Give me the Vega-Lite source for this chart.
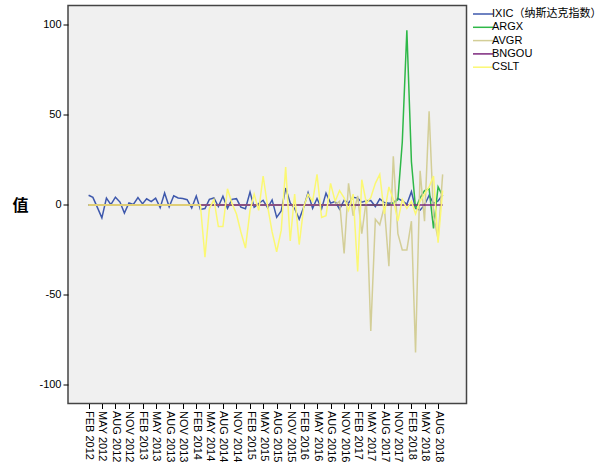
{
  "$schema": "https://vega.github.io/schema/vega-lite/v6.json",
  "width": 398.5,
  "height": 398,
  "autosize": {"type": "none"},
  "padding": {"left": 68, "top": 5.5, "right": 142.5, "bottom": 62.5},
  "background": "white",
  "config": {
    "view": {"fill": "#F0F0F0", "stroke": "#444444", "strokeWidth": 1.5},
    "font": "Liberation Sans",
    "axis": {"grid": false, "domain": false, "tickColor": "#000000", "tickSize": 5, "labelColor": "#000000", "labelFontSize": 11, "labelFont": "Liberation Sans"}
  },
  "data": {"values": [
    {"month": "2012-02-01", "IXIC（纳斯达克指数）": 5.4, "ARGX": 0, "AVGR": 0, "BNGOU": 0, "CSLT": 0},
    {"month": "2012-03-01", "IXIC（纳斯达克指数）": 4.2, "ARGX": 0, "AVGR": 0, "BNGOU": 0, "CSLT": 0},
    {"month": "2012-04-01", "IXIC（纳斯达克指数）": -1.5, "ARGX": 0, "AVGR": 0, "BNGOU": 0, "CSLT": 0},
    {"month": "2012-05-01", "IXIC（纳斯达克指数）": -7.2, "ARGX": 0, "AVGR": 0, "BNGOU": 0, "CSLT": 0},
    {"month": "2012-06-01", "IXIC（纳斯达克指数）": 3.8, "ARGX": 0, "AVGR": 0, "BNGOU": 0, "CSLT": 0},
    {"month": "2012-07-01", "IXIC（纳斯达克指数）": 0.2, "ARGX": 0, "AVGR": 0, "BNGOU": 0, "CSLT": 0},
    {"month": "2012-08-01", "IXIC（纳斯达克指数）": 4.3, "ARGX": 0, "AVGR": 0, "BNGOU": 0, "CSLT": 0},
    {"month": "2012-09-01", "IXIC（纳斯达克指数）": 1.6, "ARGX": 0, "AVGR": 0, "BNGOU": 0, "CSLT": 0},
    {"month": "2012-10-01", "IXIC（纳斯达克指数）": -4.5, "ARGX": 0, "AVGR": 0, "BNGOU": 0, "CSLT": 0},
    {"month": "2012-11-01", "IXIC（纳斯达克指数）": 1.1, "ARGX": 0, "AVGR": 0, "BNGOU": 0, "CSLT": 0},
    {"month": "2012-12-01", "IXIC（纳斯达克指数）": 0.3, "ARGX": 0, "AVGR": 0, "BNGOU": 0, "CSLT": 0},
    {"month": "2013-01-01", "IXIC（纳斯达克指数）": 4.1, "ARGX": 0, "AVGR": 0, "BNGOU": 0, "CSLT": 0},
    {"month": "2013-02-01", "IXIC（纳斯达克指数）": 0.6, "ARGX": 0, "AVGR": 0, "BNGOU": 0, "CSLT": 0},
    {"month": "2013-03-01", "IXIC（纳斯达克指数）": 3.4, "ARGX": 0, "AVGR": 0, "BNGOU": 0, "CSLT": 0},
    {"month": "2013-04-01", "IXIC（纳斯达克指数）": 1.9, "ARGX": 0, "AVGR": 0, "BNGOU": 0, "CSLT": 0},
    {"month": "2013-05-01", "IXIC（纳斯达克指数）": 3.8, "ARGX": 0, "AVGR": 0, "BNGOU": 0, "CSLT": 0},
    {"month": "2013-06-01", "IXIC（纳斯达克指数）": -1.5, "ARGX": 0, "AVGR": 0, "BNGOU": 0, "CSLT": 0},
    {"month": "2013-07-01", "IXIC（纳斯达克指数）": 6.6, "ARGX": 0, "AVGR": 0, "BNGOU": 0, "CSLT": 0},
    {"month": "2013-08-01", "IXIC（纳斯达克指数）": -1.0, "ARGX": 0, "AVGR": 0, "BNGOU": 0, "CSLT": 0},
    {"month": "2013-09-01", "IXIC（纳斯达克指数）": 5.1, "ARGX": 0, "AVGR": 0, "BNGOU": 0, "CSLT": 0},
    {"month": "2013-10-01", "IXIC（纳斯达克指数）": 3.9, "ARGX": 0, "AVGR": 0, "BNGOU": 0, "CSLT": 0},
    {"month": "2013-11-01", "IXIC（纳斯达克指数）": 3.6, "ARGX": 0, "AVGR": 0, "BNGOU": 0, "CSLT": 0},
    {"month": "2013-12-01", "IXIC（纳斯达克指数）": 2.9, "ARGX": 0, "AVGR": 0, "BNGOU": 0, "CSLT": 0},
    {"month": "2014-01-01", "IXIC（纳斯达克指数）": -1.7, "ARGX": 0, "AVGR": 0, "BNGOU": 0, "CSLT": 0},
    {"month": "2014-02-01", "IXIC（纳斯达克指数）": 5.0, "ARGX": 0, "AVGR": 0, "BNGOU": 0, "CSLT": 0},
    {"month": "2014-03-01", "IXIC（纳斯达克指数）": -2.5, "ARGX": 0, "AVGR": 0, "BNGOU": 0, "CSLT": 0},
    {"month": "2014-04-01", "IXIC（纳斯达克指数）": -2.0, "ARGX": 0, "AVGR": 0, "BNGOU": 0, "CSLT": -29},
    {"month": "2014-05-01", "IXIC（纳斯达克指数）": 3.1, "ARGX": 0, "AVGR": 0, "BNGOU": 0, "CSLT": -2},
    {"month": "2014-06-01", "IXIC（纳斯达克指数）": 3.9, "ARGX": 0, "AVGR": 0, "BNGOU": 0, "CSLT": 3},
    {"month": "2014-07-01", "IXIC（纳斯达克指数）": -0.9, "ARGX": 0, "AVGR": 0, "BNGOU": 0, "CSLT": -12},
    {"month": "2014-08-01", "IXIC（纳斯达克指数）": 4.8, "ARGX": 0, "AVGR": 0, "BNGOU": 0, "CSLT": -12},
    {"month": "2014-09-01", "IXIC（纳斯达克指数）": -1.9, "ARGX": 0, "AVGR": 0, "BNGOU": 0, "CSLT": 9},
    {"month": "2014-10-01", "IXIC（纳斯达克指数）": 3.1, "ARGX": 0, "AVGR": 0, "BNGOU": 0, "CSLT": 1},
    {"month": "2014-11-01", "IXIC（纳斯达克指数）": 3.5, "ARGX": 0, "AVGR": 0, "BNGOU": 0, "CSLT": -5},
    {"month": "2014-12-01", "IXIC（纳斯达克指数）": -1.2, "ARGX": 0, "AVGR": 0, "BNGOU": 0, "CSLT": -15},
    {"month": "2015-01-01", "IXIC（纳斯达克指数）": -2.1, "ARGX": 0, "AVGR": 0, "BNGOU": 0, "CSLT": -24},
    {"month": "2015-02-01", "IXIC（纳斯达克指数）": 7.1, "ARGX": 0, "AVGR": 0, "BNGOU": 0, "CSLT": -3},
    {"month": "2015-03-01", "IXIC（纳斯达克指数）": -1.3, "ARGX": 0, "AVGR": 0, "BNGOU": 0, "CSLT": 6},
    {"month": "2015-04-01", "IXIC（纳斯达克指数）": 0.8, "ARGX": 0, "AVGR": 0, "BNGOU": 0, "CSLT": -3},
    {"month": "2015-05-01", "IXIC（纳斯达克指数）": 2.6, "ARGX": 0, "AVGR": 0, "BNGOU": 0, "CSLT": 16},
    {"month": "2015-06-01", "IXIC（纳斯达克指数）": -1.6, "ARGX": 0, "AVGR": 0, "BNGOU": 0, "CSLT": -1},
    {"month": "2015-07-01", "IXIC（纳斯达克指数）": 2.8, "ARGX": 0, "AVGR": 0, "BNGOU": 0, "CSLT": -15},
    {"month": "2015-08-01", "IXIC（纳斯达克指数）": -6.9, "ARGX": 0, "AVGR": 0, "BNGOU": 0, "CSLT": -26},
    {"month": "2015-09-01", "IXIC（纳斯达克指数）": -3.3, "ARGX": 0, "AVGR": 0, "BNGOU": 0, "CSLT": -14},
    {"month": "2015-10-01", "IXIC（纳斯达克指数）": 9.4, "ARGX": 0, "AVGR": 0, "BNGOU": 0, "CSLT": 21},
    {"month": "2015-11-01", "IXIC（纳斯达克指数）": 1.1, "ARGX": 0, "AVGR": 0, "BNGOU": 0, "CSLT": -20},
    {"month": "2015-12-01", "IXIC（纳斯达克指数）": -2.0, "ARGX": 0, "AVGR": 0, "BNGOU": 0, "CSLT": 6},
    {"month": "2016-01-01", "IXIC（纳斯达克指数）": -7.9, "ARGX": 0, "AVGR": 0, "BNGOU": 0, "CSLT": -22},
    {"month": "2016-02-01", "IXIC（纳斯达克指数）": -1.2, "ARGX": 0, "AVGR": 0, "BNGOU": 0, "CSLT": -1},
    {"month": "2016-03-01", "IXIC（纳斯达克指数）": 6.8, "ARGX": 0, "AVGR": 0, "BNGOU": 0, "CSLT": 6},
    {"month": "2016-04-01", "IXIC（纳斯达克指数）": -1.9, "ARGX": 0, "AVGR": 0, "BNGOU": 0, "CSLT": 2},
    {"month": "2016-05-01", "IXIC（纳斯达克指数）": 3.6, "ARGX": 0, "AVGR": 0, "BNGOU": 0, "CSLT": 17},
    {"month": "2016-06-01", "IXIC（纳斯达克指数）": -2.1, "ARGX": 0, "AVGR": 0, "BNGOU": 0, "CSLT": -7},
    {"month": "2016-07-01", "IXIC（纳斯达克指数）": 6.6, "ARGX": 0, "AVGR": 0, "BNGOU": 0, "CSLT": -6},
    {"month": "2016-08-01", "IXIC（纳斯达克指数）": 1.0, "ARGX": 0, "AVGR": 0, "BNGOU": 0, "CSLT": 12},
    {"month": "2016-09-01", "IXIC（纳斯达克指数）": 1.9, "ARGX": 0, "AVGR": 0, "BNGOU": 0, "CSLT": 2},
    {"month": "2016-10-01", "IXIC（纳斯达克指数）": -2.3, "ARGX": 0, "AVGR": 2, "BNGOU": 0, "CSLT": 8},
    {"month": "2016-11-01", "IXIC（纳斯达克指数）": 2.6, "ARGX": 0, "AVGR": -27, "BNGOU": 0, "CSLT": 4},
    {"month": "2016-12-01", "IXIC（纳斯达克指数）": 1.1, "ARGX": 0, "AVGR": 12, "BNGOU": 0, "CSLT": -3},
    {"month": "2017-01-01", "IXIC（纳斯达克指数）": 4.3, "ARGX": 0, "AVGR": -6, "BNGOU": 0, "CSLT": 6},
    {"month": "2017-02-01", "IXIC（纳斯达克指数）": 3.8, "ARGX": 0, "AVGR": 5, "BNGOU": 0, "CSLT": -37},
    {"month": "2017-03-01", "IXIC（纳斯达克指数）": 1.5, "ARGX": 0, "AVGR": -16, "BNGOU": 0, "CSLT": 14},
    {"month": "2017-04-01", "IXIC（纳斯达克指数）": 2.3, "ARGX": 0, "AVGR": 3, "BNGOU": 0, "CSLT": 1},
    {"month": "2017-05-01", "IXIC（纳斯达克指数）": 2.5, "ARGX": 0, "AVGR": -70, "BNGOU": 0, "CSLT": 4},
    {"month": "2017-06-01", "IXIC（纳斯达克指数）": -0.9, "ARGX": 0, "AVGR": -8, "BNGOU": 0, "CSLT": 12},
    {"month": "2017-07-01", "IXIC（纳斯达克指数）": 3.4, "ARGX": 0, "AVGR": -11, "BNGOU": 0, "CSLT": 17},
    {"month": "2017-08-01", "IXIC（纳斯达克指数）": 1.3, "ARGX": 0, "AVGR": -1, "BNGOU": 0, "CSLT": -5},
    {"month": "2017-09-01", "IXIC（纳斯达克指数）": 1.0, "ARGX": 0, "AVGR": -34, "BNGOU": 0, "CSLT": 10},
    {"month": "2017-10-01", "IXIC（纳斯达克指数）": 1.2, "ARGX": 1, "AVGR": 27, "BNGOU": 0, "CSLT": 3},
    {"month": "2017-11-01", "IXIC（纳斯达克指数）": 3.6, "ARGX": 3, "AVGR": -16, "BNGOU": 0, "CSLT": -9},
    {"month": "2017-12-01", "IXIC（纳斯达克指数）": 2.2, "ARGX": 35, "AVGR": -25, "BNGOU": 0, "CSLT": 3},
    {"month": "2018-01-01", "IXIC（纳斯达克指数）": 0.4, "ARGX": 97, "AVGR": -25, "BNGOU": 0, "CSLT": -2},
    {"month": "2018-02-01", "IXIC（纳斯达克指数）": 7.4, "ARGX": 24, "AVGR": -9, "BNGOU": 0, "CSLT": 2},
    {"month": "2018-03-01", "IXIC（纳斯达克指数）": -1.9, "ARGX": -2, "AVGR": -82, "BNGOU": 0, "CSLT": -5},
    {"month": "2018-04-01", "IXIC（纳斯达克指数）": -2.9, "ARGX": 4, "AVGR": 19, "BNGOU": 0, "CSLT": 2},
    {"month": "2018-05-01", "IXIC（纳斯达克指数）": 0.0, "ARGX": 8, "AVGR": -9, "BNGOU": 0, "CSLT": 6},
    {"month": "2018-06-01", "IXIC（纳斯达克指数）": 5.3, "ARGX": 9, "AVGR": 52, "BNGOU": 0, "CSLT": 10},
    {"month": "2018-07-01", "IXIC（纳斯达克指数）": 0.9, "ARGX": -13, "AVGR": -6, "BNGOU": 0, "CSLT": 16},
    {"month": "2018-08-01", "IXIC（纳斯达克指数）": 2.2, "ARGX": 10, "AVGR": -19, "BNGOU": 0, "CSLT": -21},
    {"month": "2018-09-01", "IXIC（纳斯达克指数）": 5.7, "ARGX": 5, "AVGR": 17, "BNGOU": 0, "CSLT": 8}
  ]},
  "transform": [
    {"fold": ["IXIC（纳斯达克指数）", "ARGX", "AVGR", "BNGOU", "CSLT"], "as": ["series", "value"]}
  ],
  "mark": {"type": "line", "strokeWidth": 1.5, "interpolate": "linear"},
  "encoding": {
    "x": {
      "field": "month", "type": "temporal",
      "scale": {"type": "utc", "domain": [{"year": 2011, "month": 9, "date": 14, "utc": true}, {"year": 2019, "month": 2, "date": 10, "utc": true}]},
      "axis": {
        "title": null,
        "values": [
          {"year": 2012, "month": 2, "date": 1, "utc": true}, {"year": 2012, "month": 5, "date": 1, "utc": true}, {"year": 2012, "month": 8, "date": 1, "utc": true}, {"year": 2012, "month": 11, "date": 1, "utc": true},
          {"year": 2013, "month": 2, "date": 1, "utc": true}, {"year": 2013, "month": 5, "date": 1, "utc": true}, {"year": 2013, "month": 8, "date": 1, "utc": true}, {"year": 2013, "month": 11, "date": 1, "utc": true},
          {"year": 2014, "month": 2, "date": 1, "utc": true}, {"year": 2014, "month": 5, "date": 1, "utc": true}, {"year": 2014, "month": 8, "date": 1, "utc": true}, {"year": 2014, "month": 11, "date": 1, "utc": true},
          {"year": 2015, "month": 2, "date": 1, "utc": true}, {"year": 2015, "month": 5, "date": 1, "utc": true}, {"year": 2015, "month": 8, "date": 1, "utc": true}, {"year": 2015, "month": 11, "date": 1, "utc": true},
          {"year": 2016, "month": 2, "date": 1, "utc": true}, {"year": 2016, "month": 5, "date": 1, "utc": true}, {"year": 2016, "month": 8, "date": 1, "utc": true}, {"year": 2016, "month": 11, "date": 1, "utc": true},
          {"year": 2017, "month": 2, "date": 1, "utc": true}, {"year": 2017, "month": 5, "date": 1, "utc": true}, {"year": 2017, "month": 8, "date": 1, "utc": true}, {"year": 2017, "month": 11, "date": 1, "utc": true},
          {"year": 2018, "month": 2, "date": 1, "utc": true}, {"year": 2018, "month": 5, "date": 1, "utc": true}, {"year": 2018, "month": 8, "date": 1, "utc": true}
        ],
        "labelExpr": "upper(utcFormat(datum.value, '%b %Y'))",
        "labelAngle": 90, "labelAlign": "left", "labelBaseline": "middle",
        "labelPadding": 2, "labelOverlap": false, "labelBound": false, "labelFlush": false
      }
    },
    "y": {
      "field": "value", "type": "quantitative",
      "scale": {"domain": [-110.3, 110.8], "nice": false, "zero": false},
      "axis": {
        "title": "值", "titleAngle": 0, "titleFont": "Noto Sans CJK SC", "titleFontSize": 16, "titleFontWeight": "bold", "titleColor": "#000000",
        "titleX": -48, "titleY": 199.5, "titleAlign": "center", "titleBaseline": "middle",
        "values": [-100, -50, 0, 50, 100], "labelExpr": "'' + datum.value", "labelPadding": 2
      }
    },
    "color": {
      "field": "series", "type": "nominal",
      "scale": {"domain": ["IXIC（纳斯达克指数）", "ARGX", "AVGR", "BNGOU", "CSLT"], "range": ["#3E58AC", "#2EB848", "#D3CE97", "#7C287D", "#FBF873"]},
      "legend": {"title": null, "orient": "none", "legendX": 409, "legendY": 2.5, "padding": 0, "symbolType": "M-2,0H2", "symbolSize": 100, "symbolStrokeWidth": 1.5, "labelFontSize": 11, "labelFont": "Liberation Sans, Noto Sans CJK SC", "labelColor": "#000000", "rowPadding": 2.3, "labelOffset": 3}
    }
  }
}
